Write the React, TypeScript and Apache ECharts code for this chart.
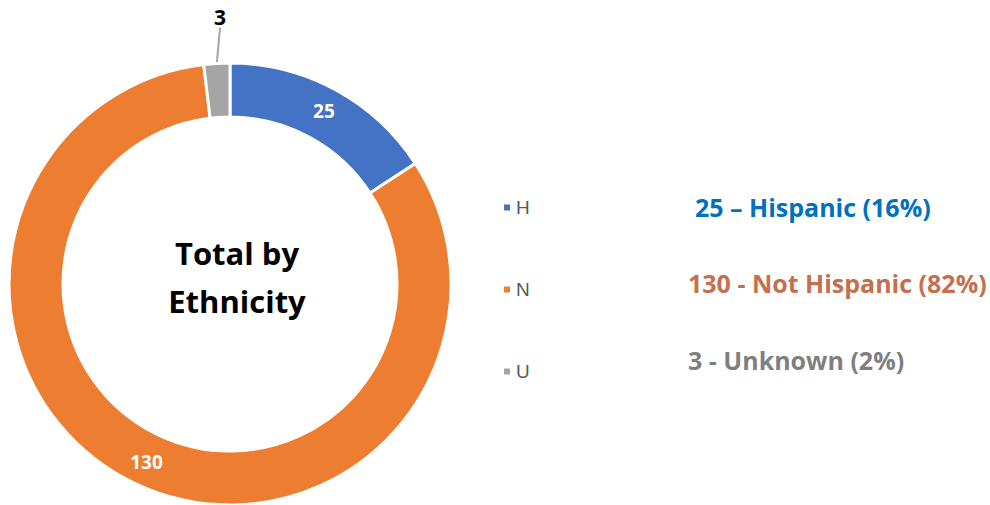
import React, { useEffect, useRef } from "react";
import * as echarts from "echarts";

const categories = ["H", "N", "U"];
const values = [25, 130, 3];
const colors = ["#4472C4", "#ED7D31", "#A5A5A5"];
const summaryLines = ["25 – Hispanic (16%)", "130 - Not Hispanic (82%)", "3 - Unknown (2%)"];
const summaryColors = ["#0070C0", "#C46F4E", "#7F7F7F"];
const titleLines = ["Total by", "Ethnicity"];

export default function App() {
  const ref = useRef<HTMLDivElement>(null);
  useEffect(() => {
    document.body.style.margin = "0";
    const chart = echarts.init(ref.current!, null, { renderer: "svg" });
    const data = categories.map((c, i) => ({
      name: c,
      value: values[i],
      itemStyle: { color: colors[i] },
      label:
        i === 2
          ? { position: "outside", color: "#000", fontWeight: "bold", fontSize: 21 }
          : { position: "inside", color: "#fff", fontWeight: "bold", fontSize: 19 },
      labelLine: i === 2 ? { show: true, length: 28, length2: 0, lineStyle: { color: "#A5A5A5", width: 2 } } : { show: false },
    }));
    chart.setOption({
      animation: false,
      legend: {
        orient: "vertical",
        left: 497,
        top: 193,
        itemWidth: 8,
        itemHeight: 8,
        itemGap: 63,
        icon: "rect",
        data: categories,
        textStyle: { fontFamily: "Liberation Sans", fontSize: 19, color: "#595959", lineHeight: 19 },
      },
      graphic: [
        {
          type: "text",
          x: 237,
          y: 277,
          style: {
            text: titleLines.join("\n"),
            font: "bold 31px 'Open Sans'",
            fill: "#000",
            align: "center",
            verticalAlign: "middle",
            lineHeight: 48,
          },
        },
        ...summaryLines.map((t, i) => ({
          type: "text",
          x: i === 0 ? 695 : 688,
          y: [207, 283, 360][i],
          style: {
            text: t,
            font: "bold 25px 'Open Sans'",
            fill: summaryColors[i],
            verticalAlign: "middle",
          },
        })),
      ],
      series: [
        {
          type: "pie",
          center: [230, 284],
          radius: [167, 221],
          startAngle: 90,
          clockwise: true,
          avoidLabelOverlap: false,
          label: { show: true, fontFamily: "Open Sans", formatter: "{c}" },
          itemStyle: { borderColor: "#fff", borderWidth: 3 },
          labelLayout: (params: any) =>
            params.dataIndex === 2
              ? { x: 220, y: 17, align: "center", verticalAlign: "middle" }
              : {},
          data,
        },
      ],
    });
    return () => chart.dispose();
  }, []);
  return <div ref={ref} style={{ width: 990, height: 505 }} />;
}
